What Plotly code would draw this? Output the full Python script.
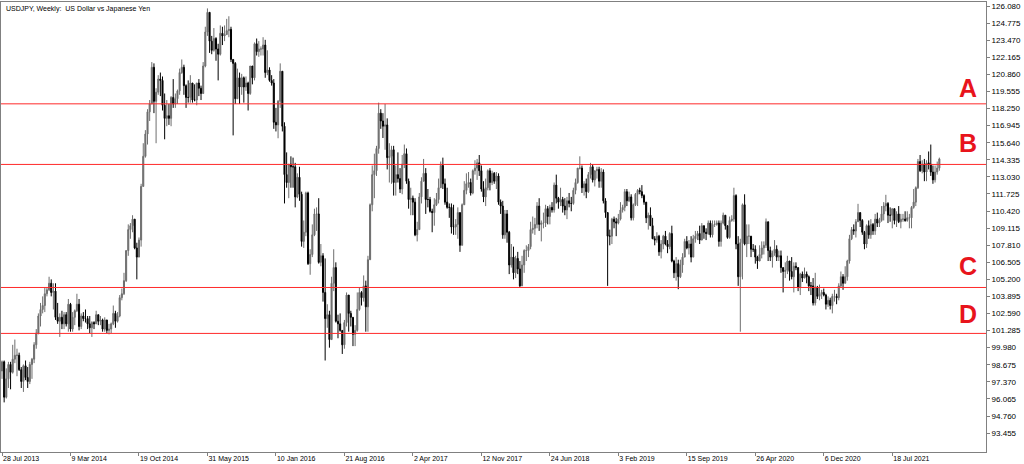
import pandas as pd
import plotly.graph_objects as go

# ---------------- data (USDJPY weekly) ----------------
first_open = 98.2
start_week = "2013-07-28"

close = [
    # 2013
    98.9, 96.2, 97.6, 98.7, 98.1, 99.1, 99.4, 99.4, 98.3, 97.4, 98.6, 97.7, 97.4, 98.7, 99.1, 100.2, 101.1, 102.4, 102.9, 103.2, 104.1, 104.4, 104.9,
    # 2014
    104.2, 104.3, 102.3, 102.0, 102.3, 101.8, 102.5, 101.8, 103.3, 101.4, 102.3, 102.8, 103.3, 101.6, 102.4, 102.2, 102.2, 101.8, 101.5, 101.9, 101.8, 102.5, 102.0, 102.1, 101.4, 102.1,
    101.3, 101.4, 101.8, 102.6, 102.0, 102.4, 103.8, 104.1, 105.1, 107.4, 109.0, 109.3, 109.8, 107.6, 106.9, 108.2, 112.3, 114.6, 116.3, 118.0, 118.6, 121.4, 118.8, 119.5, 120.5, 120.4,
    # 2015
    118.5, 117.5, 117.7, 117.5, 119.1, 118.6, 119.0, 119.6, 121.0, 121.4, 120.0, 119.1, 119.1, 120.2, 118.9, 118.9, 120.2, 119.8, 119.4, 121.5, 124.1, 125.6, 123.4, 122.7, 123.6, 122.8,
    122.4, 124.0, 123.8, 123.9, 124.2, 124.3, 122.0, 121.7, 119.0, 120.6, 119.9, 120.6, 119.9, 120.2, 119.4, 121.5, 120.6, 123.2, 122.6, 122.8, 122.8, 123.1, 121.0, 121.2, 120.4, 120.2,
    # 2016
    117.2, 117.0, 118.8, 121.1, 116.9, 113.2, 112.6, 114.0, 113.8, 113.8, 111.5, 113.0, 111.7, 108.1, 108.8, 111.8, 106.4, 107.1, 108.6, 110.2, 110.2, 106.5, 107.0, 104.2, 102.2, 102.5,
    100.6, 104.9, 106.1, 102.0, 101.8, 101.3, 100.2, 101.9, 104.0, 102.6, 102.3, 101.0, 101.3, 102.9, 104.2, 103.8, 104.7, 103.1, 106.7, 110.9, 113.2, 113.5, 115.2, 117.9, 117.3, 116.9,
    # 2017
    117.0, 114.5, 114.6, 115.1, 112.6, 113.2, 112.9, 112.1, 114.0, 114.8, 112.7, 111.3, 111.4, 111.1, 108.6, 109.0, 111.5, 112.7, 113.3, 111.3, 111.3, 110.4, 110.3, 110.9, 111.3, 112.2,
    113.9, 112.5, 111.1, 110.7, 110.7, 109.2, 109.2, 109.4, 110.3, 107.8, 110.9, 112.0, 112.5, 112.6, 111.8, 113.5, 113.7, 114.1, 113.5, 112.1, 111.5, 112.2, 113.5, 112.6, 113.3, 112.7,
    # 2018
    113.1, 111.1, 110.8, 108.6, 110.2, 108.8, 106.3, 106.9, 105.7, 106.8, 106.0, 104.7, 106.3, 107.4, 107.4, 107.7, 109.0, 109.1, 109.4, 110.8, 109.4, 109.5, 109.5, 110.6, 110.0, 110.7,
    110.5, 112.4, 111.4, 111.1, 111.3, 110.8, 110.5, 111.2, 111.0, 111.0, 112.0, 112.6, 113.7, 113.7, 112.2, 112.5, 111.9, 113.2, 113.8, 112.8, 113.5, 113.6, 112.7, 113.4, 111.2, 110.3,
    # 2019
    108.5, 108.5, 109.8, 109.6, 109.5, 109.8, 110.5, 110.7, 111.9, 111.2, 111.5, 109.9, 110.9, 111.7, 112.0, 111.9, 111.6, 111.1, 109.9, 110.1, 109.3, 108.3, 108.2, 108.5, 107.3, 107.9, 108.5,
    107.9, 107.7, 108.7, 106.6, 105.7, 106.4, 105.4, 106.3, 106.9, 108.1, 107.6, 107.9, 106.9, 108.3, 108.5, 108.7, 108.2, 109.3, 108.8, 108.7, 109.5, 108.6, 109.4, 109.4, 109.5, 108.1,
    # 2020
    109.5, 110.1, 109.3, 108.4, 109.7, 109.8, 111.6, 107.9, 105.4, 108.0, 110.9, 107.9, 108.5, 108.5, 107.5, 107.5, 106.9, 106.6, 107.1, 107.6, 107.8, 109.6, 107.4, 106.9, 107.2, 107.5,
    106.9, 107.0, 106.1, 105.8, 105.9, 106.6, 105.8, 105.4, 106.2, 106.1, 104.6, 105.6, 105.3, 105.6, 105.4, 104.7, 104.7, 103.4, 104.6, 103.9, 104.1, 104.2, 104.0, 103.3, 103.6, 103.2,
    # 2021
    103.9, 103.9, 103.8, 104.7, 105.4, 104.9, 105.4, 106.6, 108.3, 109.0, 108.9, 109.6, 110.3, 109.7, 108.8, 107.9, 109.3, 108.6, 109.4, 108.9, 109.8, 109.5, 109.7, 110.2, 110.8, 111.0,
    110.1, 110.1, 110.6, 109.7, 110.2, 109.6, 109.8, 109.8, 109.7, 109.9, 109.9, 110.7, 111.1, 112.2, 114.2, 113.5, 114.0, 113.4, 114.1, 114.0, 113.4, 112.8, 113.4, 113.7, 114.4,
]

high = [
    # 2013
    99.0, 99.0, 98.4, 98.9, 98.9, 100.2, 100.6, 99.9, 99.6, 98.5, 98.7, 99.0, 98.5, 98.9, 99.2, 100.4, 101.4, 102.6, 103.4, 103.9, 104.6, 104.6, 105.4,
    # 2014
    105.2, 104.9, 104.9, 103.4, 102.6, 102.8, 102.7, 102.7, 103.7, 103.4, 102.7, 102.9, 104.1, 103.7, 102.6, 102.7, 102.9, 102.4, 102.4, 102.0, 102.0, 102.8, 102.5, 102.4, 102.2, 102.3,
    102.1, 101.8, 101.9, 103.2, 102.8, 102.7, 104.0, 104.5, 105.7, 107.4, 109.4, 109.5, 110.1, 109.8, 108.0, 108.4, 112.5, 115.6, 116.6, 118.2, 118.9, 121.8, 121.7, 119.8, 120.8, 121.0,
    # 2015
    120.7, 119.4, 118.9, 118.6, 119.2, 120.5, 119.4, 119.7, 121.3, 122.0, 121.6, 120.1, 120.4, 120.8, 120.2, 120.1, 120.2, 120.5, 120.0, 121.8, 124.5, 125.9, 125.6, 123.8, 124.4, 123.7,
    123.2, 124.6, 124.5, 124.6, 125.1, 125.3, 124.5, 122.0, 121.8, 121.3, 121.0, 120.9, 120.7, 120.7, 120.3, 121.5, 121.5, 123.3, 123.6, 123.4, 123.0, 123.7, 123.5, 122.7, 121.4, 120.8,
    # 2016
    120.5, 118.3, 118.9, 121.7, 121.1, 117.2, 114.9, 114.0, 114.6, 114.5, 114.1, 113.3, 113.8, 111.9, 109.7, 111.9, 111.9, 107.5, 109.4, 110.6, 110.7, 111.4, 107.9, 107.2, 106.8, 103.3,
    102.8, 105.4, 107.5, 106.5, 102.5, 102.6, 101.3, 102.1, 104.2, 104.0, 102.8, 102.3, 101.7, 104.2, 104.6, 104.3, 105.5, 105.1, 107.0, 111.0, 113.9, 114.8, 115.4, 118.7, 118.2, 117.9,
    # 2017
    118.6, 117.5, 115.6, 115.4, 115.4, 113.9, 114.9, 113.7, 114.7, 115.5, 115.2, 112.9, 112.2, 111.6, 111.4, 109.6, 111.8, 113.0, 114.4, 113.7, 112.1, 111.5, 110.6, 111.4, 111.8, 112.9,
    114.2, 114.5, 112.9, 112.2, 111.0, 111.0, 110.9, 109.8, 110.7, 110.3, 111.0, 112.7, 113.3, 113.4, 112.9, 113.6, 114.3, 114.4, 114.7, 113.9, 112.7, 112.9, 113.6, 113.7, 113.5, 113.4,
    # 2018
    113.4, 113.3, 111.3, 111.2, 110.5, 110.5, 108.9, 107.9, 107.7, 107.0, 107.3, 106.6, 107.0, 107.5, 107.8, 107.9, 109.6, 110.0, 109.9, 111.1, 111.4, 109.7, 110.3, 110.9, 110.8, 110.9,
    111.1, 112.6, 113.2, 111.5, 112.2, 111.5, 111.4, 111.5, 111.8, 111.5, 112.2, 112.9, 113.7, 114.6, 113.9, 112.7, 112.9, 113.4, 114.1, 114.0, 113.5, 113.8, 113.8, 113.7, 113.6, 111.4,
    # 2019
    110.3, 109.0, 109.9, 110.0, 109.9, 110.2, 111.1, 110.9, 112.1, 112.1, 111.9, 111.7, 111.0, 111.8, 112.1, 112.2, 112.4, 111.7, 111.1, 110.3, 110.7, 109.9, 108.5, 108.8, 108.6, 108.2, 108.6,
    108.9, 108.2, 108.8, 109.3, 106.7, 106.9, 106.7, 106.7, 107.2, 108.3, 108.5, 108.2, 108.5, 108.6, 108.9, 108.9, 109.3, 109.5, 109.3, 109.1, 109.7, 109.7, 109.7, 109.7, 109.7, 109.7,
    # 2020
    109.7, 110.3, 110.1, 109.3, 110.0, 110.1, 112.2, 111.7, 108.5, 108.3, 111.0, 111.7, 109.4, 109.4, 108.5, 107.9, 107.8, 107.0, 107.8, 108.1, 108.1, 109.85, 109.6, 107.7, 107.4, 108.2,
    107.8, 107.4, 107.4, 106.1, 106.5, 107.0, 106.6, 106.9, 106.5, 106.5, 106.1, 105.7, 105.8, 106.1, 105.8, 105.5, 105.0, 105.3, 105.7, 104.7, 104.8, 104.4, 104.5, 104.1, 103.9, 103.8,
    # 2021
    104.1, 104.4, 104.1, 104.9, 105.8, 105.6, 106.2, 106.7, 108.6, 109.2, 109.4, 109.8, 110.97, 110.3, 109.8, 108.9, 109.4, 109.7, 109.8, 109.5, 110.2, 110.3, 109.9, 110.8, 111.1, 111.66,
    111.1, 110.7, 110.6, 110.6, 110.4, 110.8, 110.2, 110.2, 110.4, 110.4, 110.2, 110.8, 112.1, 112.3, 114.4, 114.7, 114.3, 114.4, 114.3, 114.97, 115.5, 113.9, 113.9, 114.2, 114.5,
]

low = [
    # 2013
    97.6, 95.8, 96.1, 96.9, 96.8, 98.0, 98.8, 97.8, 98.2, 96.9, 96.6, 97.5, 96.9, 97.2, 97.6, 98.8, 99.9, 101.0, 101.6, 102.6, 102.7, 103.9, 104.3,
    # 2014
    103.9, 102.9, 102.1, 101.8, 100.8, 101.4, 101.4, 101.6, 101.2, 101.2, 101.2, 101.7, 102.7, 101.3, 101.4, 102.0, 101.9, 101.4, 101.1, 100.8, 101.4, 101.8, 101.7, 101.7, 101.2, 101.2,
    101.1, 101.0, 101.1, 101.7, 101.5, 101.9, 102.3, 103.6, 104.0, 105.0, 107.0, 108.3, 108.8, 107.5, 105.2, 106.9, 107.7, 112.3, 114.5, 115.5, 117.3, 118.6, 117.9, 115.6, 119.3, 119.2,
    # 2015
    118.1, 115.9, 116.9, 117.0, 116.9, 118.3, 118.3, 118.6, 119.3, 120.9, 119.3, 118.3, 118.7, 118.7, 118.7, 118.8, 118.5, 119.2, 118.9, 119.4, 121.4, 123.8, 122.5, 122.4, 122.6, 121.9,
    120.4, 122.3, 123.1, 123.4, 123.9, 123.7, 121.8, 116.2, 118.6, 119.0, 118.6, 119.3, 118.7, 119.6, 118.1, 119.3, 120.1, 120.4, 122.3, 122.2, 122.3, 122.3, 120.6, 120.8, 120.3, 120.0,
    # 2016
    116.7, 116.5, 115.98, 118.3, 116.5, 111.0, 112.2, 111.4, 112.2, 112.2, 110.7, 111.4, 111.2, 107.7, 107.6, 108.5, 106.3, 105.55, 106.9, 108.5, 108.9, 106.4, 106.2, 103.5, 99.0, 101.5,
    99.98, 100.6, 104.3, 101.9, 100.7, 101.2, 99.5, 99.9, 101.6, 101.2, 101.6, 100.1, 100.1, 101.2, 102.8, 103.2, 103.5, 101.2, 101.2, 106.7, 110.4, 111.4, 113.1, 114.8, 116.7, 116.0,
    # 2017
    115.1, 113.6, 112.6, 112.5, 111.6, 111.6, 112.6, 111.8, 111.7, 113.7, 112.5, 110.6, 110.1, 110.1, 108.5, 108.1, 109.0, 111.0, 112.7, 110.2, 110.7, 110.3, 108.8, 109.3, 110.8, 111.0,
    112.2, 112.1, 110.9, 110.6, 109.9, 108.7, 108.6, 108.6, 108.3, 107.3, 107.8, 110.9, 111.7, 112.2, 111.6, 111.7, 113.2, 112.8, 113.1, 111.9, 111.1, 110.8, 112.0, 112.0, 112.4, 112.5,
    # 2018
    112.1, 110.9, 110.2, 108.3, 108.3, 108.0, 105.6, 106.1, 105.2, 105.3, 105.6, 104.6, 104.7, 105.7, 106.6, 106.9, 107.5, 108.7, 108.6, 109.1, 108.9, 108.1, 109.1, 109.2, 109.4, 109.4,
    110.3, 110.3, 111.0, 110.6, 110.8, 110.3, 110.1, 109.8, 110.7, 110.4, 110.9, 111.7, 112.5, 113.6, 111.8, 111.6, 111.4, 111.8, 112.9, 112.6, 112.3, 112.9, 112.2, 112.2, 111.0, 109.9,
    # 2019
    104.7, 107.8, 107.9, 109.1, 108.5, 109.4, 109.7, 110.3, 110.4, 110.8, 111.1, 109.7, 109.7, 110.8, 110.8, 111.7, 111.4, 110.9, 109.5, 109.0, 109.3, 108.3, 107.8, 108.0, 107.0, 106.8, 107.5,
    107.8, 107.2, 107.5, 106.5, 105.3, 105.1, 104.45, 105.3, 105.7, 106.9, 107.5, 107.1, 106.5, 106.9, 108.0, 108.2, 107.9, 108.2, 108.3, 108.2, 108.6, 108.4, 108.4, 109.2, 109.3, 107.7,
    # 2020
    107.7, 109.4, 109.0, 108.3, 108.3, 109.6, 109.6, 107.5, 104.7, 101.2, 105.2, 107.8, 106.9, 107.9, 106.9, 107.3, 106.4, 106.0, 106.6, 106.8, 107.1, 107.6, 106.6, 106.6, 106.1, 107.0,
    106.6, 106.6, 105.7, 104.2, 105.3, 105.6, 105.1, 105.2, 104.2, 105.9, 104.3, 104.0, 105.0, 105.3, 104.9, 104.3, 104.0, 103.2, 103.2, 103.7, 103.6, 103.7, 103.9, 102.9, 103.1, 102.9,
    # 2021
    102.6, 103.5, 103.3, 103.6, 104.6, 104.4, 104.9, 105.1, 106.4, 108.2, 108.6, 108.4, 109.6, 109.2, 108.6, 107.5, 107.6, 108.3, 108.3, 108.6, 108.6, 109.2, 109.2, 109.6, 109.7, 110.4,
    109.5, 109.6, 109.1, 109.4, 109.2, 109.5, 109.1, 109.6, 109.6, 109.6, 109.1, 109.1, 110.6, 110.8, 112.1, 113.4, 113.3, 112.7, 112.7, 113.6, 113.1, 112.5, 112.6, 113.2, 113.5,
]

levels = [118.61, 113.98, 104.58, 101.07]          # horizontal lines
level_names = ["A", "B", "C", "D"]
label_prices = [119.81, 115.61, 106.23, 102.56]     # where the letters sit

tick_prices = [93.455 + 1.305 * k for k in range(26)]
tick_weeks = [0, 32, 64, 96, 128, 160, 192, 224, 256, 288, 320, 352, 384, 416]

# ---------------- build ----------------
n = min(len(close), len(high), len(low))
close, high, low = close[:n], high[:n], low[:n]
opens = [first_open] + close[:-1]
dates = pd.date_range(start_week, periods=n, freq="7D")
t0 = pd.Timestamp(start_week)
week = pd.Timedelta(days=7)

fig = go.Figure(go.Candlestick(
    x=dates, open=opens, high=high, low=low, close=close,
    increasing=dict(line=dict(color="#6e6e6e", width=1), fillcolor="#6e6e6e"),
    decreasing=dict(line=dict(color="#000000", width=1), fillcolor="#000000"),
    whiskerwidth=0, showlegend=False, hoverinfo="skip",
))

for lv in levels:
    fig.add_shape(type="line", xref="paper", x0=0, x1=1, yref="y", y0=lv, y1=lv,
                  line=dict(color="#ff2a2a", width=1), layer="above")

for name, yp in zip(level_names, label_prices):
    fig.add_annotation(xref="paper", x=0.9815, yref="y", y=yp, text=name, showarrow=False,
                       xanchor="center", yanchor="middle",
                       font=dict(family="Liberation Sans, Arial", size=25, color="#e8141c", weight="bold"))

fig.add_annotation(xref="paper", x=0.003, yref="paper", y=0.997, xanchor="left", yanchor="top",
                   text="USDJPY, Weekly:  US Dollar vs Japanese Yen", showarrow=False,
                   font=dict(family="Liberation Sans, Arial", size=7, color="#000000"))

fig.update_layout(
    width=1024, height=464,
    margin=dict(l=1, r=38, t=2, b=12),
    paper_bgcolor="white", plot_bgcolor="white",
    xaxis=dict(
        type="date",
        range=[t0 - week * 0.47, t0 + week * 459.8],
        rangeslider=dict(visible=False),
        tickvals=[t0 + week * w for w in tick_weeks],
        ticktext=[(t0 + week * w).strftime("%-d %b %Y") for w in tick_weeks],
        ticks="outside", ticklen=3, tickcolor="#808080",
        ticklabelposition="outside right",
        tickfont=dict(family="Liberation Sans, Arial", size=7, color="#000000"),
        showgrid=False, zeroline=False,
        showline=True, linecolor="#808080", linewidth=1, mirror=True,
    ),
    yaxis=dict(
        side="right",
        range=[92.01, 126.39],
        tickvals=tick_prices,
        ticktext=[f"{p:.3f}" for p in tick_prices],
        ticks="outside", ticklen=3, tickcolor="#808080",
        tickfont=dict(family="Liberation Sans, Arial", size=8, color="#000000"),
        showgrid=False, zeroline=False,
        showline=True, linecolor="#808080", linewidth=1, mirror=True,
    ),
)

fig.write_html("out.html", config={"displayModeBar": False},
               post_script="document.body.style.margin='0';")
